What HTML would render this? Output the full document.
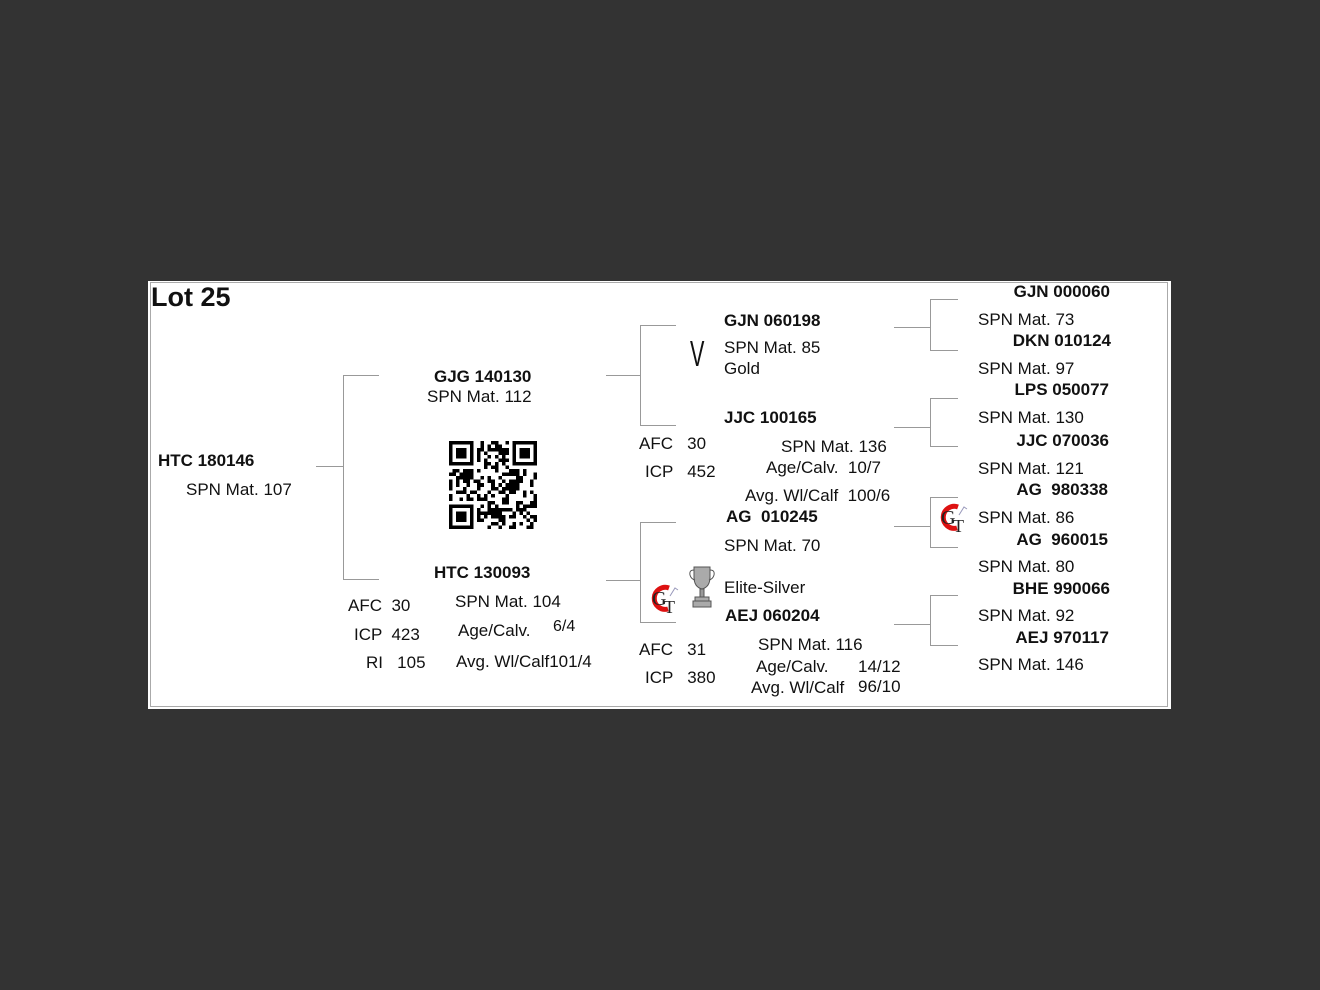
<!DOCTYPE html>
<html><head><meta charset="utf-8">
<style>
html,body{margin:0;padding:0;background:#333;}
body{width:1320px;height:990px;position:relative;overflow:hidden;font-family:"Liberation Sans",Arial,sans-serif;color:#111;}
#panel{position:absolute;left:148px;top:281px;width:1023px;height:428px;background:#fff;}
#panel:after{content:"";position:absolute;left:2px;top:1px;right:3px;bottom:2px;border:1px solid #aaa;}
.t{position:absolute;font-size:17px;line-height:20px;white-space:pre;}
.b{font-weight:bold;}
.h{position:absolute;height:1px;background:#999;}
.v{position:absolute;width:1px;background:#999;}
.r{text-align:right;width:200px;}
</style></head><body>
<div id="panel"></div>

<div class="h" style="left:316px;top:466px;width:27px"></div>
<div class="v" style="left:343px;top:375px;height:205px"></div>
<div class="h" style="left:343px;top:375px;width:36px"></div>
<div class="h" style="left:343px;top:579px;width:36px"></div>

<div class="h" style="left:606px;top:375px;width:34px"></div>
<div class="v" style="left:640px;top:325px;height:101px"></div>
<div class="h" style="left:640px;top:325px;width:36px"></div>
<div class="h" style="left:640px;top:425px;width:36px"></div>

<div class="h" style="left:606px;top:580px;width:34px"></div>
<div class="v" style="left:640px;top:522px;height:101px"></div>
<div class="h" style="left:640px;top:522px;width:36px"></div>
<div class="h" style="left:640px;top:622px;width:36px"></div>

<div class="h" style="left:894px;top:327px;width:36px"></div>
<div class="v" style="left:930px;top:299px;height:52px"></div>
<div class="h" style="left:930px;top:299px;width:28px"></div>
<div class="h" style="left:930px;top:350px;width:28px"></div>

<div class="h" style="left:894px;top:427px;width:36px"></div>
<div class="v" style="left:930px;top:398px;height:49px"></div>
<div class="h" style="left:930px;top:398px;width:28px"></div>
<div class="h" style="left:930px;top:446px;width:28px"></div>

<div class="h" style="left:894px;top:526px;width:36px"></div>
<div class="v" style="left:930px;top:497px;height:51px"></div>
<div class="h" style="left:930px;top:497px;width:28px"></div>
<div class="h" style="left:930px;top:547px;width:28px"></div>

<div class="h" style="left:894px;top:624px;width:36px"></div>
<div class="v" style="left:930px;top:595px;height:51px"></div>
<div class="h" style="left:930px;top:595px;width:28px"></div>
<div class="h" style="left:930px;top:645px;width:28px"></div>

<div class="t b" style="left:151px;top:282px;font-size:27px;line-height:30px">Lot 25</div>
<div class="t b" style="left:158px;top:451px">HTC 180146</div>
<div class="t" style="left:186px;top:480px">SPN Mat. 107</div>

<div class="t b" style="left:434px;top:367px">GJG 140130</div>
<div class="t" style="left:427px;top:387px">SPN Mat. 112</div>
<div class="t b" style="left:434px;top:563px">HTC 130093</div>
<div class="t" style="left:348px;top:596px">AFC  30</div>
<div class="t" style="left:354px;top:625px">ICP  423</div>
<div class="t" style="left:366px;top:653px">RI   105</div>
<div class="t" style="left:455px;top:592px">SPN Mat. 104</div>
<div class="t" style="left:458px;top:621px">Age/Calv.</div>
<div class="t" style="left:553px;top:617px;font-size:16px">6/4</div>
<div class="t" style="left:456px;top:652px">Avg. Wl/Calf101/4</div>

<div class="t b" style="left:724px;top:311px">GJN 060198</div>
<div class="t" style="left:690px;top:334px;font-size:36px;line-height:40px;transform:scaleX(0.6);transform-origin:left;font-weight:300">V</div>
<div class="t" style="left:724px;top:338px">SPN Mat. 85</div>
<div class="t" style="left:724px;top:359px">Gold</div>
<div class="t b" style="left:724px;top:408px">JJC 100165</div>
<div class="t" style="left:639px;top:434px">AFC   30</div>
<div class="t" style="left:645px;top:462px">ICP   452</div>
<div class="t" style="left:781px;top:437px">SPN Mat. 136</div>
<div class="t" style="left:766px;top:458px">Age/Calv.  10/7</div>
<div class="t" style="left:745px;top:486px">Avg. Wl/Calf  100/6</div>

<div class="t b" style="left:726px;top:507px">AG  010245</div>
<div class="t" style="left:724px;top:536px">SPN Mat. 70</div>
<div class="t" style="left:724px;top:578px">Elite-Silver</div>
<div class="t b" style="left:725px;top:606px">AEJ 060204</div>
<div class="t" style="left:639px;top:640px">AFC   31</div>
<div class="t" style="left:645px;top:668px">ICP   380</div>
<div class="t" style="left:758px;top:635px">SPN Mat. 116</div>
<div class="t" style="left:756px;top:657px">Age/Calv.</div>
<div class="t" style="left:858px;top:657px">14/12</div>
<div class="t" style="left:751px;top:678px">Avg. Wl/Calf</div>
<div class="t" style="left:858px;top:677px">96/10</div>

<div class="t b r" style="left:910px;top:282px">GJN 000060</div>
<div class="t" style="left:978px;top:310px">SPN Mat. 73</div>
<div class="t b r" style="left:911px;top:331px">DKN 010124</div>
<div class="t" style="left:978px;top:359px">SPN Mat. 97</div>
<div class="t b r" style="left:909px;top:380px">LPS 050077</div>
<div class="t" style="left:978px;top:408px">SPN Mat. 130</div>
<div class="t b r" style="left:909px;top:431px">JJC 070036</div>
<div class="t" style="left:978px;top:459px">SPN Mat. 121</div>
<div class="t b r" style="left:908px;top:480px">AG  980338</div>
<div class="t" style="left:978px;top:508px">SPN Mat. 86</div>
<div class="t b r" style="left:908px;top:530px">AG  960015</div>
<div class="t" style="left:978px;top:557px">SPN Mat. 80</div>
<div class="t b r" style="left:910px;top:579px">BHE 990066</div>
<div class="t" style="left:978px;top:606px">SPN Mat. 92</div>
<div class="t b r" style="left:909px;top:628px">AEJ 970117</div>
<div class="t" style="left:978px;top:655px">SPN Mat. 146</div>

<svg style="position:absolute;left:648px;top:582px" width="34" height="34" viewBox="0 0 34 34">
<path d="M21 6 A11 11 0 1 0 20 27" fill="none" stroke="#d11" stroke-width="5"/>
<text x="4" y="23" font-family="Liberation Serif,serif" font-size="20" fill="#222">G</text>
<text x="16" y="31" font-family="Liberation Serif,serif" font-size="18" fill="#222">T</text>
<path d="M22 14 l5 -8 l3 2" fill="none" stroke="#99b" stroke-width="1"/>
</svg>
<svg style="position:absolute;left:937px;top:501px" width="34" height="34" viewBox="0 0 34 34">
<path d="M21 6 A11 11 0 1 0 20 27" fill="none" stroke="#d11" stroke-width="5"/>
<text x="4" y="23" font-family="Liberation Serif,serif" font-size="20" fill="#222">G</text>
<text x="16" y="31" font-family="Liberation Serif,serif" font-size="18" fill="#222">T</text>
<path d="M22 14 l5 -8 l3 2" fill="none" stroke="#99b" stroke-width="1"/>
</svg>
<svg style="position:absolute;left:688px;top:565px" width="28" height="44" viewBox="0 0 28 44">
<path d="M6 2 H22 V12 Q22 22 14 24 Q6 22 6 12 Z" fill="#aaa" stroke="#555"/>
<path d="M6 5 Q1 5 2 10 Q3 14 7 15 M22 5 Q27 5 26 10 Q25 14 21 15" fill="none" stroke="#555"/>
<rect x="12" y="24" width="4" height="8" fill="#999" stroke="#555"/>
<rect x="7" y="32" width="14" height="4" fill="#aaa" stroke="#555"/>
<rect x="5" y="36" width="18" height="6" fill="#aaa" stroke="#555"/>
</svg>

<svg id="qr" style="position:absolute;left:449px;top:441px" width="88" height="88" viewBox="0 0 25 25" shape-rendering="crispEdges"></svg>
<script>
(function(){
var s=document.getElementById('qr'),h='',seed=98765;
function rnd(){seed=(seed*1103515245+12345)&0x7fffffff;return seed/0x7fffffff;}
function fin(x,y){return '<rect x="'+x+'" y="'+y+'" width="7" height="7" fill="#000"/><rect x="'+(x+1)+'" y="'+(y+1)+'" width="5" height="5" fill="#fff"/><rect x="'+(x+2)+'" y="'+(y+2)+'" width="3" height="3" fill="#000"/>';}
for(var y=0;y<25;y++)for(var x=0;x<25;x++){
 if((x<8&&y<8)||(x>16&&y<8)||(x<8&&y>16))continue;
 if(rnd()<0.5)h+='<rect x="'+x+'" y="'+y+'" width="1" height="1" fill="#000"/>';
}
h+=fin(0,0)+fin(18,0)+fin(0,18);
s.innerHTML=h;
})();
</script>
</body></html>
